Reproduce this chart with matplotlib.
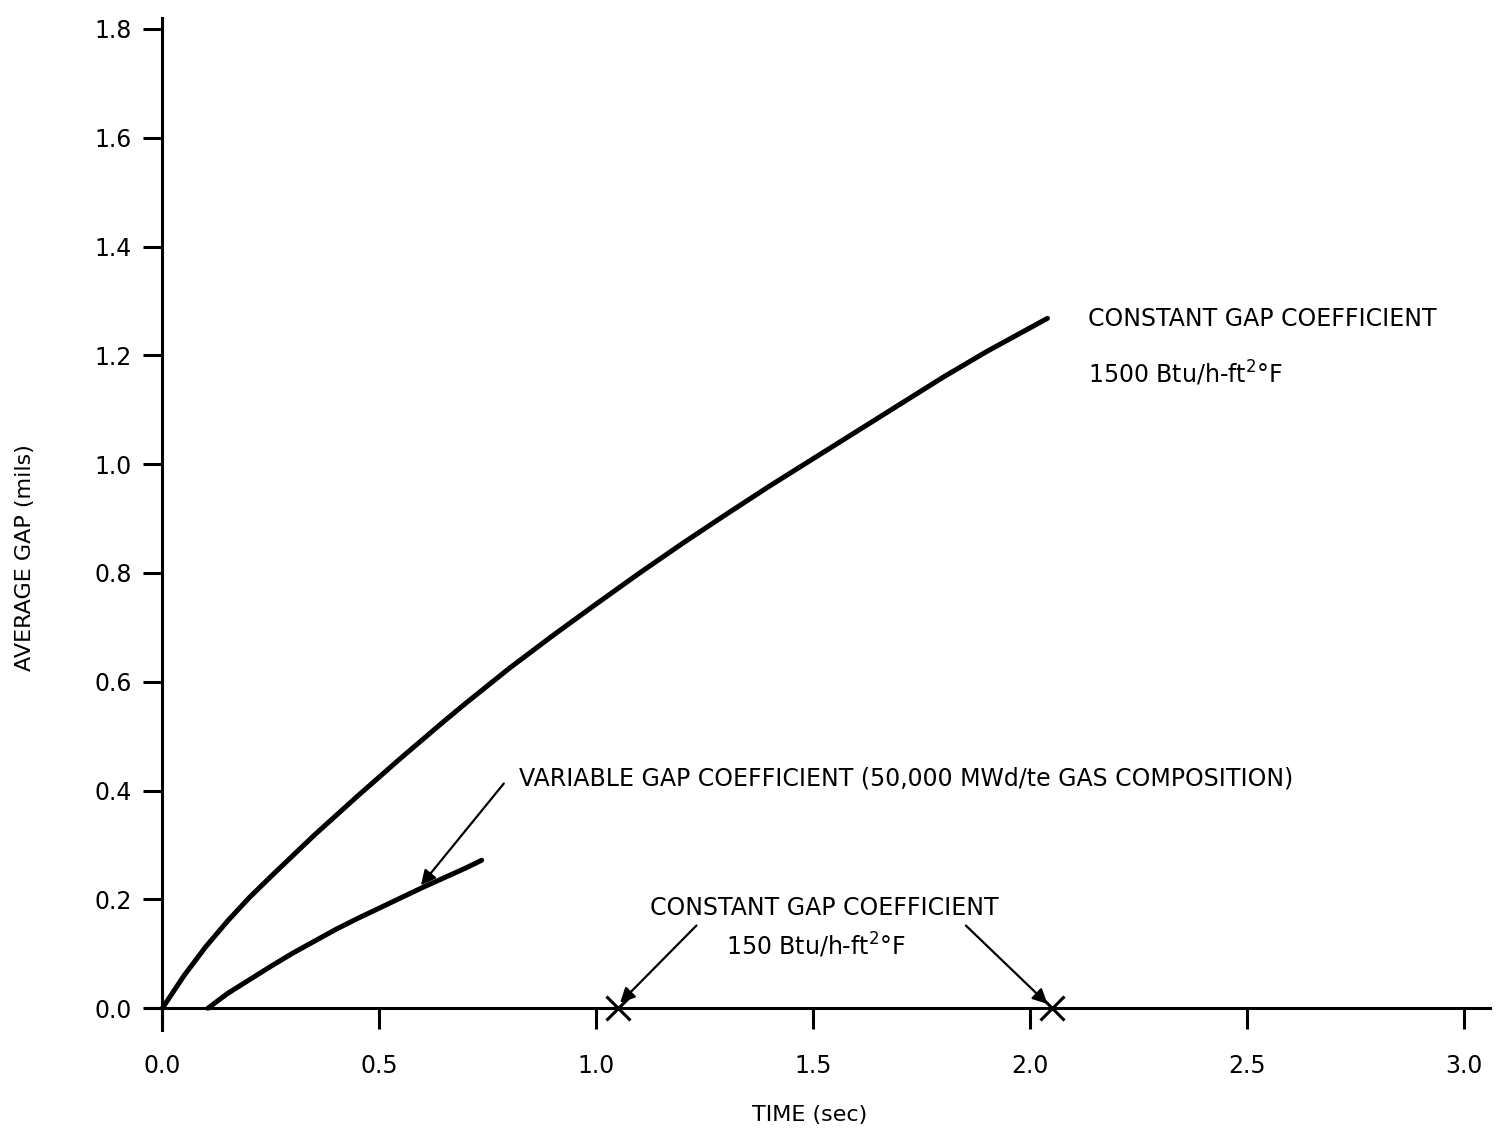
import matplotlib
matplotlib.use("Agg")
import matplotlib.pyplot as plt

# Average gap vs time, constant gap coefficient 1500 Btu/h-ft2F
t_const = [0.0, 0.05, 0.10, 0.15, 0.20, 0.25, 0.30, 0.35, 0.40, 0.45, 0.50,
           0.55, 0.60, 0.65, 0.70, 0.75, 0.80, 0.90, 1.00, 1.10, 1.20, 1.30,
           1.40, 1.50, 1.60, 1.70, 1.80, 1.90, 2.04]
gap_const = [0.0, 0.06, 0.113, 0.16, 0.203, 0.242, 0.28, 0.318, 0.354, 0.39,
             0.425, 0.46, 0.494, 0.528, 0.561, 0.593, 0.625, 0.685, 0.743,
             0.80, 0.855, 0.908, 0.96, 1.01, 1.06, 1.11, 1.16, 1.207, 1.268]

# Variable gap coefficient (50,000 MWd/te gas composition)
t_var = [0.105, 0.15, 0.20, 0.25, 0.30, 0.35, 0.40, 0.45, 0.50, 0.55, 0.60,
         0.65, 0.70, 0.736]
gap_var = [0.0, 0.027, 0.052, 0.077, 0.101, 0.123, 0.145, 0.165, 0.184,
           0.203, 0.222, 0.240, 0.258, 0.272]

# Gap closure points for 150 Btu/h-ft2F
t_closed = [1.05, 2.05]
gap_closed = [0.0, 0.0]

x_ticks = [0.0, 0.5, 1.0, 1.5, 2.0, 2.5, 3.0]
y_ticks = [0.0, 0.2, 0.4, 0.6, 0.8, 1.0, 1.2, 1.4, 1.6, 1.8]

plt.rcParams['font.family'] = ['DejaVu Sans']
fig = plt.figure(figsize=(15.12, 11.40), dpi=100)
ax = fig.add_axes([145 / 1512, 1 - 1030 / 1140, (1490 - 145) / 1512, (1030 - 18) / 1140])

ax.set_xlim(-0.04, 3.06)
ax.set_ylim(-0.04, 1.82)

ax.plot(t_const, gap_const, color='black', lw=3.6, solid_capstyle='round',
        solid_joinstyle='round')
ax.plot(t_var, gap_var, color='black', lw=3.6, solid_capstyle='round',
        solid_joinstyle='round')
ax.plot(t_closed, gap_closed, linestyle='none', marker='x', color='black',
        markersize=17, markeredgewidth=2.2)

for side in ('top', 'right'):
    ax.spines[side].set_visible(False)
ax.spines['left'].set_position(('data', 0))
ax.spines['bottom'].set_position(('data', 0))
ax.spines['left'].set_linewidth(2.2)
ax.spines['bottom'].set_linewidth(2.2)

ax.set_xticks(x_ticks)
ax.set_xticklabels([f"{v:.1f}" for v in x_ticks])
ax.set_yticks(y_ticks)
ax.set_yticklabels([f"{v:.1f}" for v in y_ticks])
ax.tick_params(axis='x', direction='out', length=15, width=2.2, pad=18, labelsize=17)
ax.tick_params(axis='y', direction='out', length=14, width=2.2, pad=8, labelsize=17)

fig.text(810 / 1512, 1 - 1115 / 1140, "TIME (sec)", ha='center', va='center', fontsize=16)
fig.text(25 / 1512, 1 - 558 / 1140, "AVERAGE GAP (mils)", ha='center', va='center',
         rotation=90, fontsize=16)

txt = dict(fontsize=17, color='black')
ax.text(2.133, 1.266, "CONSTANT GAP COEFFICIENT", ha='left', va='center', **txt)
ax.text(2.133, 1.167, r"1500 Btu/h-ft$^{2}$°F", ha='left', va='center', **txt)

arrow = dict(arrowstyle='-|>', color='black', lw=1.6, mutation_scale=22,
             shrinkA=0, shrinkB=0)
ax.text(0.821, 0.422, "VARIABLE GAP COEFFICIENT (50,000 MWd/te GAS COMPOSITION)",
        ha='left', va='center', **txt)
ax.annotate("", xy=(0.596, 0.226), xytext=(0.787, 0.413), arrowprops=arrow)

ax.text(1.525, 0.185, "CONSTANT GAP COEFFICIENT", ha='center', va='center', **txt)
ax.text(1.507, 0.116, r"150 Btu/h-ft$^{2}$°F", ha='center', va='center', **txt)
ax.annotate("", xy=(1.055, 0.01), xytext=(1.231, 0.152), arrowprops=arrow)
ax.annotate("", xy=(2.04, 0.008), xytext=(1.852, 0.152), arrowprops=arrow)

fig.savefig("out.png", dpi=100, facecolor='white')
